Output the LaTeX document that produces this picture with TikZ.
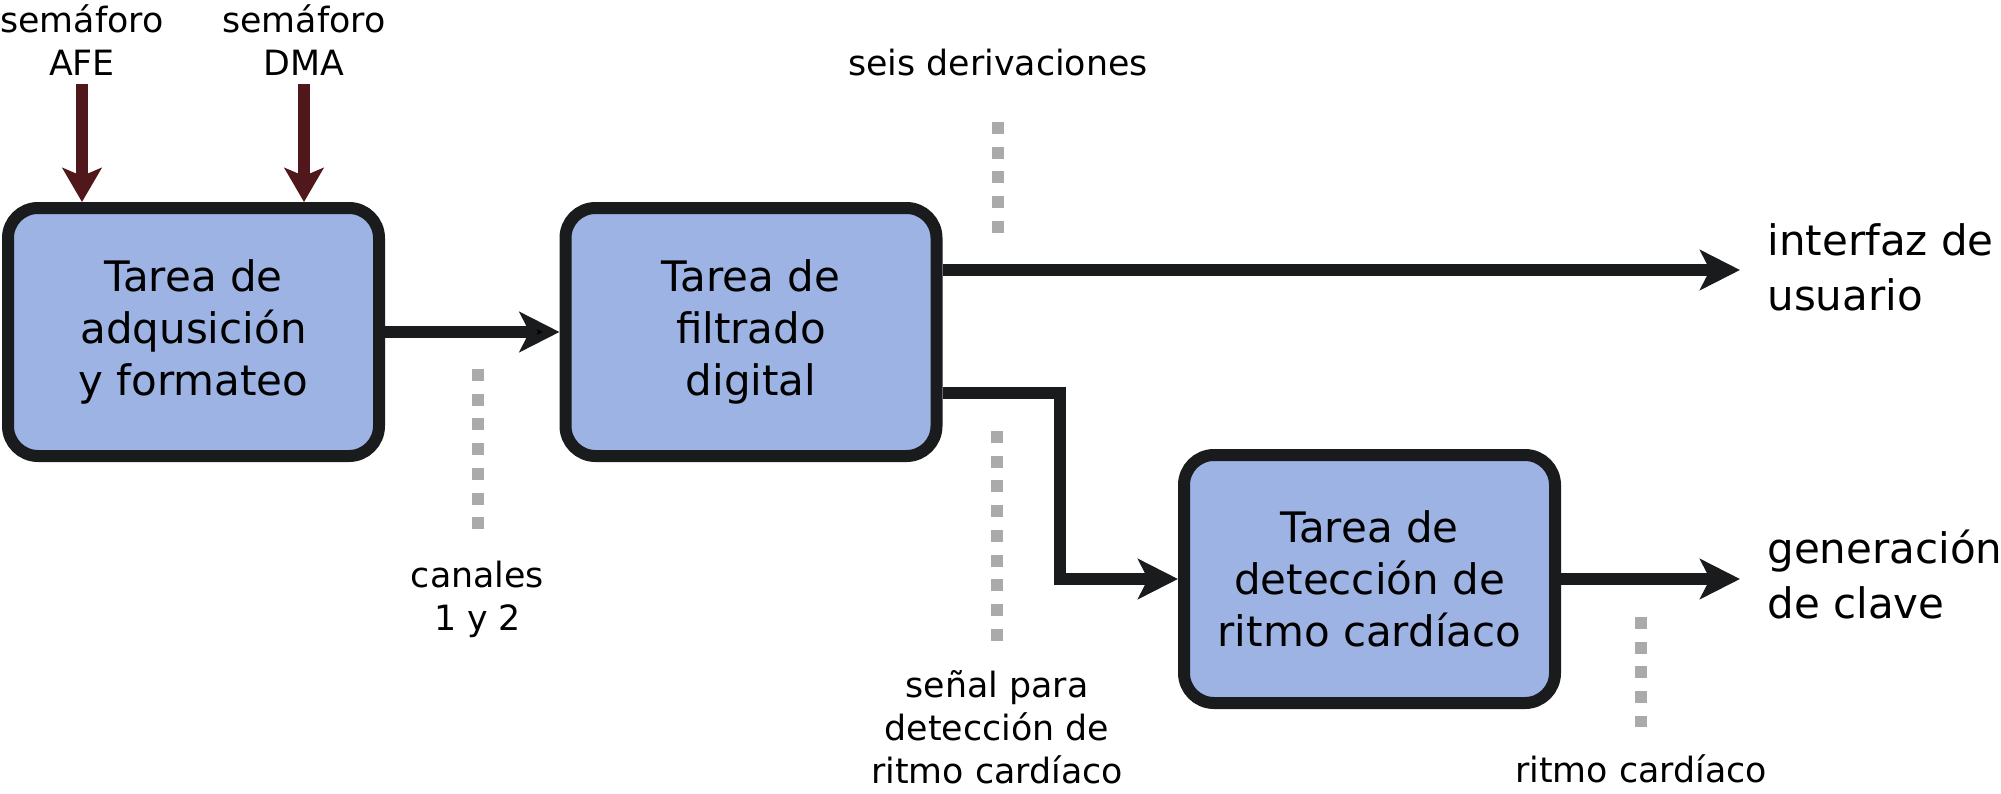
\documentclass[tikz,border=0pt]{standalone}
\usepackage{fontspec}
\setmainfont{DejaVu Sans}
\usetikzlibrary{arrows.meta}
\definecolor{azultarea}{RGB}{157,179,228}
\definecolor{borde}{RGB}{26,27,29}
\definecolor{rojosem}{RGB}{80,24,26}
\definecolor{gristick}{RGB}{170,170,170}

\begin{document}
\begin{tikzpicture}[x=0.5pt,y=-0.5pt,
    tarea/.style={draw=borde, fill=azultarea, line width=6pt, rounded corners=15pt,
      minimum width=185.5pt, minimum height=124pt, align=center, inner sep=0pt,
      font=\fontsize{21pt}{26pt}\selectfont},
    flecha/.style={draw=borde, line width=6.25pt, -{Stealth[length=20pt,width=20pt,inset=5pt]}},
    semaforo/.style={draw=rojosem, line width=6pt, -{Stealth[length=17pt,width=19.5pt,inset=4pt]}},
    punteado/.style={draw=gristick, line width=6pt, dash pattern=on 6pt off 6.35pt},
    etiq/.style={align=center, inner sep=0pt, font=\fontsize{17.4pt}{21.5pt}\selectfont},
    salida/.style={align=left, inner sep=0pt, font=\fontsize{21pt}{27.5pt}\selectfont}]
  \useasboundingbox (0,0) rectangle (2001,793);

  % tareas
  \node[tarea] (adq) at (193.5,332) {Tarea de\\adqusición\\y formateo};
  \node[tarea] (filt) at (751,332) {Tarea de\\filtrado\\digital};
  \node[tarea] (ritmo) at (1369.5,579) {Tarea de\\detección de\\ritmo cardíaco};

  % semaforos
  \node[etiq, anchor=base] (afe) at (82,75) {semáforo\\AFE};
  \node[etiq, anchor=base] (dma) at (304,75) {semáforo\\DMA};
  \draw[semaforo] ([yshift=-4.5pt]afe.base) -- (afe.base |- adq.north);
  \draw[semaforo] ([yshift=-4.5pt]dma.base) -- (dma.base |- adq.north);

  % salidas
  \coordinate (ui) at (1740,270);
  \coordinate (desvio) at (1060,393);
  \coordinate (clave) at (1740,579);
  \path[flecha] (adq) edge (filt);
  \draw[flecha] (filt.east |- ui) -- (ui);
  \draw[flecha] (filt.east |- desvio) -- (desvio) |- (ritmo.west);
  \draw[flecha] (ritmo) -- (clave);
  \node[salida, anchor=base west] (usu) at (1767,310) {interfaz de\\usuario};
  \node[salida, anchor=base west] (gen) at (1767,618) {generación\\de clave};

  % senales
  \node[etiq, anchor=base] (deriv) at (998,75) {seis derivaciones};
  \node[etiq, anchor=base] (canal) at (477.5,630) {canales\\1 y 2};
  \node[etiq, anchor=base] (senal) at (997,783) {señal para\\detección de\\ritmo cardíaco};
  \node[etiq, anchor=base] (pulso) at (1641,782) {ritmo cardíaco};
  \draw[punteado] (deriv.base |- 0,122) -- ++(0,111);
  \draw[punteado] (478,369) -- ++(0,160);
  \draw[punteado] (senal.base |- 0,431) -- ++(0,210);
  \draw[punteado] (pulso.base |- 0,617) -- ++(0,110);
\end{tikzpicture}
\end{document}
